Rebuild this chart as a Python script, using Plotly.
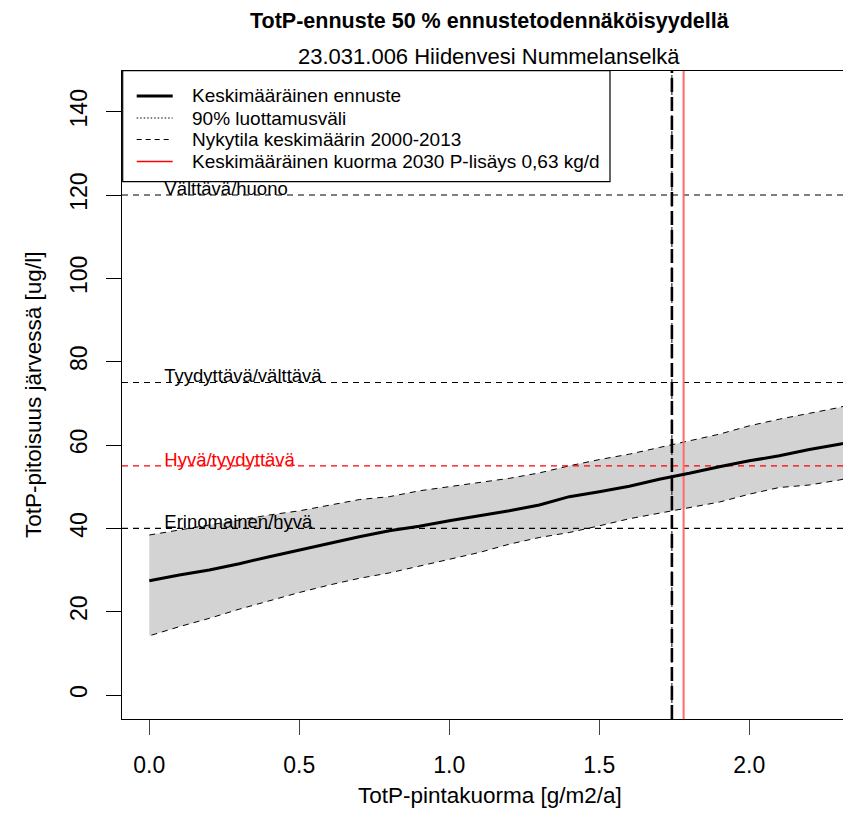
import plotly.graph_objects as go

# ---------------- data ----------------
x_load = [0.0, 0.1, 0.2, 0.3, 0.4, 0.5, 0.6, 0.7, 0.8, 0.9, 1.0, 1.1, 1.2,
          1.3, 1.4, 1.5, 1.6, 1.7, 1.8, 1.9, 2.0, 2.1, 2.2, 2.3, 2.4]
mean_conc = [27.4, 28.8, 30.0, 31.5, 33.2, 34.8, 36.4, 38.0, 39.4, 40.5, 41.8, 43.0, 44.2,
             45.6, 47.6, 48.8, 50.1, 51.8, 53.2, 54.8, 56.2, 57.4, 58.9, 60.2, 61.6]
upper_conc = [38.4, 39.6, 40.8, 41.9, 43.2, 44.2, 45.6, 46.9, 47.6, 49.0, 50.0, 51.0, 52.0,
              53.3, 55.0, 56.5, 57.8, 59.4, 61.0, 62.6, 64.6, 66.2, 67.6, 69.0, 71.2]
lower_conc = [14.2, 16.4, 18.4, 20.6, 22.6, 24.6, 26.4, 28.0, 29.3, 30.9, 32.6, 34.2, 36.2,
              37.8, 39.0, 40.6, 42.3, 43.6, 45.0, 46.3, 48.2, 49.8, 50.4, 51.6, 53.0]

current_load = 1.742   # Nykytila keskimäärin 2000-2013
future_load = 1.781    # Keskimääräinen kuorma 2030

class_limits = [120, 75, 55, 40]
class_names = ["Välttävä/huono", "Tyydyttävä/välttävä", "Hyvä/tyydyttävä", "Erinomainen/hyvä"]
class_colors = ["black", "black", "red", "black"]
label_x = 0.05

legend_labels = ["Keskimääräinen ennuste", "90% luottamusväli",
                 "Nykytila keskimäärin 2000-2013",
                 "Keskimääräinen kuorma 2030 P-lisäys 0,63 kg/d"]

x_ticks = [0.0, 0.5, 1.0, 1.5, 2.0]
y_ticks = [0, 20, 40, 60, 80, 100, 120, 140]

title_text = "TotP-ennuste 50 % ennustetodennäköisyydellä"
subtitle_text = "23.031.006 Hiidenvesi Nummelanselkä"
x_title = "TotP-pintakuorma [g/m2/a]"
y_title = "TotP-pitoisuus järvessä [ug/l]"

X_RANGE = [-0.091, 2.339]
Y_RANGE = [-5.76, 149.76]

# ---------------- layout helpers ----------------
OFF = 8                      # page body margin of the browser
W, H = 851 - OFF, 836 - OFF
L, R, T, B = 122 - OFF, 0, 71 - OFF, 117
PW, PH = W - L - R, H - T - B
PX_PER_UNIT = PH / (Y_RANGE[1] - Y_RANGE[0])


def px2x(px):
    return (px - OFF - L) / PW


def py2y(py):
    return (H - B - (py - OFF)) / PH


FONT = "Liberation Sans, Arial, Helvetica, sans-serif"
HDASH = "6px,5px"

fig = go.Figure()

# confidence band polygon
fig.add_trace(go.Scatter(
    x=x_load + x_load[::-1], y=upper_conc + lower_conc[::-1],
    mode="lines", fill="toself", fillcolor="#d3d3d3",
    line=dict(color="black", width=1, dash=HDASH), hoverinfo="skip"))

# class limit lines
for lim, col in zip(class_limits, class_colors):
    fig.add_trace(go.Scatter(x=X_RANGE, y=[lim, lim], mode="lines",
                             line=dict(color=col, width=1.2, dash=HDASH), hoverinfo="skip"))

# vertical lines
fig.add_trace(go.Scatter(x=[current_load, current_load], y=Y_RANGE, mode="lines",
                         line=dict(color="black", width=1, dash="4px,4px"), hoverinfo="skip"))
fig.add_trace(go.Scatter(x=[current_load, current_load], y=Y_RANGE, mode="lines",
                         line=dict(color="black", width=2.6, dash="14px,5px"), hoverinfo="skip"))
fig.add_trace(go.Scatter(x=[future_load, future_load], y=Y_RANGE, mode="lines",
                         line=dict(color="#ff6a6a", width=2), hoverinfo="skip"))

# mean forecast
fig.add_trace(go.Scatter(x=x_load, y=mean_conc, mode="lines",
                         line=dict(color="black", width=3), hoverinfo="skip"))

# class labels (on an overlay axis shifted so that the text baseline sits on the line)
LABEL_FONT = 18.5
shift_units = 0.25 * LABEL_FONT / PX_PER_UNIT
fig.add_trace(go.Scatter(x=[label_x] * len(class_limits), y=class_limits, mode="text",
                         text=class_names, textposition="top right", yaxis="y2",
                         textfont=dict(family=FONT, size=LABEL_FONT, color=class_colors),
                         cliponaxis=False, hoverinfo="skip"))

shapes = []
# legend box
shapes.append(dict(type="rect", xref="paper", yref="paper",
                   x0=px2x(122.7), x1=px2x(610), y0=py2y(181.7), y1=py2y(70.7),
                   fillcolor="white", line=dict(color="black", width=1.2), layer="above"))
leg_y = [96, 118, 139.5, 161.5]
leg_styles = [dict(color="black", width=3),
              dict(color="black", width=1, dash="1.5px,2px"),
              dict(color="black", width=1, dash="5px,4px"),
              dict(color="red", width=1.3)]
annotations = []
for yy, st, lab in zip(leg_y, leg_styles, legend_labels):
    shapes.append(dict(type="line", xref="paper", yref="paper",
                       x0=px2x(136.7), x1=px2x(172.7), y0=py2y(yy), y1=py2y(yy),
                       line=st, layer="above"))
    annotations.append(dict(xref="paper", yref="paper", x=px2x(190), y=py2y(yy),
                            xanchor="left", yanchor="middle", text=lab, showarrow=False,
                            font=dict(family=FONT, size=19, color="black")))

# titles
annotations.append(dict(xref="paper", yref="paper", x=px2x(490), y=py2y(8),
                        xanchor="center", yanchor="top", text="<b>" + title_text + "</b>",
                        showarrow=False, borderpad=0,
                        font=dict(family=FONT, size=21.5, color="black")))
annotations.append(dict(xref="paper", yref="paper", x=px2x(489), y=py2y(57),
                        xanchor="center", yanchor="middle", text=subtitle_text,
                        showarrow=False, font=dict(family=FONT, size=22, color="black")))
annotations.append(dict(xref="paper", yref="paper", x=px2x(490), y=py2y(795),
                        xanchor="center", yanchor="middle", text=x_title,
                        showarrow=False, font=dict(family=FONT, size=22.5, color="black")))
annotations.append(dict(xref="paper", yref="paper", x=px2x(33), y=py2y(395),
                        xanchor="center", yanchor="middle", text=y_title, textangle=-90,
                        showarrow=False, font=dict(family=FONT, size=22.5, color="black")))

fig.update_layout(
    width=W, height=H,
    margin=dict(l=L, r=R, t=T, b=B, pad=0),
    paper_bgcolor="white", plot_bgcolor="white",
    showlegend=False,
    shapes=shapes, annotations=annotations,
    font=dict(family=FONT, size=22, color="black"),
    xaxis=dict(range=X_RANGE, tickvals=x_ticks, ticktext=["%.1f" % v for v in x_ticks],
               showgrid=False, zeroline=False, showline=True, mirror=True,
               linecolor="black", linewidth=1.2,
               ticks="outside", ticklen=15, tickwidth=1.2, tickcolor="#444",
               ticklabelstandoff=10, tickfont=dict(family=FONT, size=23, color="black")),
    yaxis=dict(range=Y_RANGE, tickvals=y_ticks, ticktext=[str(v) for v in y_ticks],
               showgrid=False, zeroline=False, showline=True, mirror=False,
               linecolor="black", linewidth=1.2, tickangle=-90,
               ticks="outside", ticklen=15, tickwidth=1.2, tickcolor="black",
               ticklabelstandoff=10, tickfont=dict(family=FONT, size=23, color="black")),
    yaxis2=dict(range=[Y_RANGE[0] + shift_units, Y_RANGE[1] + shift_units],
                overlaying="y", visible=False, showgrid=False, zeroline=False),
)

fig.write_html("out.html")
